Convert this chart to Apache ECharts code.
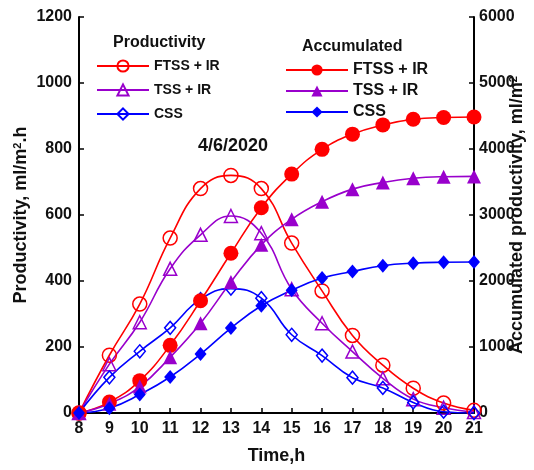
<!DOCTYPE html>
<html>
<head>
<meta charset="utf-8">
<script src="https://cdn.jsdelivr.net/npm/echarts@6/dist/echarts.min.js"></script>
<style>
  html, body { margin: 0; padding: 0; background: #fff; }
  #chart { width: 534px; height: 470px; }
</style>
</head>
<body>
<div id="chart"></div>
<script>
// time of day, h
const hours = ['8', '9', '10', '11', '12', '13', '14', '15', '16', '17', '18', '19', '20', '21'];

// productivity, ml/m2.h (left axis)
const prodFtss = [0, 175, 330, 530, 680, 720, 680, 515, 370, 235, 145, 75, 30, 8];
const prodTss = [0, 148, 275, 437, 540, 597, 545, 375, 272, 186, 105, 42, 16, 3];
const prodCss = [0, 108, 187, 258, 345, 377, 348, 237, 174, 107, 76, 32, 4, 0];

// accumulated productivity, ml/m2 (right axis)
const accFtss = [0, 165, 490, 1025, 1700, 2420, 3110, 3620, 3995, 4225, 4365, 4450, 4478, 4485];
const accTss = [0, 140, 400, 845, 1360, 1985, 2548, 2935, 3202, 3392, 3492, 3556, 3580, 3585];
const accCss = [0, 72, 280, 545, 893, 1287, 1625, 1860, 2045, 2145, 2232, 2270, 2284, 2288];

const RED = '#ff0000';
const PURPLE = '#9900cc';
const BLUE = '#0000ff';
const FONT = 'Liberation Sans, Arial, sans-serif';

// 数据系列的公共设置
function line(name, data, color, symbol, size, filled, yIdx) {
  return {
    name: name,
    type: 'line',
    yAxisIndex: yIdx,
    data: data,
    smooth: 0.45,
    symbol: symbol,
    symbolSize: size,
    lineStyle: { color: color, width: 1.6 },
    itemStyle: filled
      ? { color: color, borderColor: color, borderWidth: 0 }
      : { color: 'rgba(255,255,255,0)', borderColor: color, borderWidth: 1.5 },
    emphasis: { disabled: true }
  };
}

const chart = echarts.init(document.getElementById('chart'));
const option = {
  animation: false,
  backgroundColor: '#fff',
  textStyle: { fontFamily: FONT },
  grid: { left: 79, right: 60, top: 17, bottom: 57, outerBoundsMode: 'none', containLabel: false },
  legend: [
    {
      orient: 'vertical',
      left: 91,
      top: 54,
      itemWidth: 52,
      itemHeight: 14,
      itemGap: 10,
      data: ['P|FTSS + IR', 'P|TSS + IR', 'P|CSS'],
      formatter: n => n.split('|')[1],
      textStyle: { fontFamily: FONT, fontWeight: 'bold', fontSize: 14, color: '#111' }
    },
    {
      orient: 'vertical',
      left: 280,
      top: 57,
      itemWidth: 62,
      itemHeight: 14,
      itemGap: 5,
      data: ['A|FTSS + IR', 'A|TSS + IR', 'A|CSS'],
      formatter: n => n.split('|')[1],
      textStyle: { fontFamily: FONT, fontWeight: 'bold', fontSize: 16, color: '#111' }
    }
  ],
  graphic: [
    {
      type: 'text', left: 113, top: 35,
      style: { text: 'Productivity', fontFamily: 'Liberation Sans Narrow, Arial Narrow, sans-serif', fontWeight: 'bold', fontSize: 16, fill: '#111' }
    },
    {
      type: 'text', left: 302, top: 39,
      style: { text: 'Accumulated', fontFamily: FONT, fontWeight: 'bold', fontSize: 16, fill: '#111' }
    },
    {
      type: 'text', left: 198, top: 137,
      style: { text: '4/6/2020', fontFamily: FONT, fontWeight: 'bold', fontSize: 18, fill: '#111' }
    }
  ],
  xAxis: {
    type: 'category',
    data: hours,
    boundaryGap: false,
    name: 'Time,h',
    nameLocation: 'middle',
    nameGap: 34,
    nameMoveOverlap: false,
    nameTextStyle: { fontFamily: FONT, fontWeight: 'bold', fontSize: 18, color: '#111' },
    axisLine: { lineStyle: { color: '#000', width: 2 } },
    axisTick: { inside: true, length: 5, lineStyle: { color: '#000', width: 1.5 } },
    axisLabel: { fontFamily: FONT, fontWeight: 'bold', fontSize: 16, color: '#111', margin: 8 },
    splitLine: { show: false }
  },
  yAxis: [
    {
      type: 'value',
      min: 0, max: 1200, interval: 200,
      position: 'left',
      name: 'Productivity, ml/m{sup|2}.h',
      nameLocation: 'middle',
      nameGap: 48,
      nameMoveOverlap: false,
      nameTextStyle: {
        fontFamily: FONT, fontWeight: 'bold', fontSize: 18, color: '#111',
        rich: { sup: { fontFamily: FONT, fontWeight: 'bold', fontSize: 11, color: '#111', padding: [0, 0, 8, 0] } }
      },
      axisLine: { show: true, lineStyle: { color: '#000', width: 2 } },
      axisTick: { show: true, inside: true, length: 5, lineStyle: { color: '#000', width: 1.5 } },
      axisLabel: { fontFamily: FONT, fontWeight: 'bold', fontSize: 16, color: '#111', margin: 7, formatter: v => String(v) },
      splitLine: { show: false }
    },
    {
      type: 'value',
      min: 0, max: 6000, interval: 1000,
      position: 'right',
      name: 'Accumulated productivity, ml/m{sup|2}',
      nameLocation: 'middle',
      nameGap: 34,
      nameRotate: 90,
      nameMoveOverlap: false,
      nameTextStyle: {
        fontFamily: FONT, fontWeight: 'bold', fontSize: 18, color: '#111',
        rich: { sup: { fontFamily: FONT, fontWeight: 'bold', fontSize: 11, color: '#111', padding: [0, 0, 8, 0] } }
      },
      axisLine: { show: true, lineStyle: { color: '#000', width: 2 } },
      axisTick: { show: true, inside: true, length: 5, lineStyle: { color: '#000', width: 1.5 } },
      axisLabel: { fontFamily: FONT, fontWeight: 'bold', fontSize: 16, color: '#111', margin: 5, formatter: v => String(v) },
      splitLine: { show: false }
    }
  ],
  series: [
    line('P|FTSS + IR', prodFtss, RED, 'circle', 14, false, 0),
    line('P|TSS + IR', prodTss, PURPLE, 'triangle', 13, false, 0),
    line('P|CSS', prodCss, BLUE, 'diamond', [11, 13], false, 0),
    line('A|FTSS + IR', accFtss, RED, 'circle', 15, true, 1),
    line('A|TSS + IR', accTss, PURPLE, 'triangle', 14, true, 1),
    line('A|CSS', accCss, BLUE, 'diamond', [12, 14], true, 1)
  ]
};
chart.setOption(option);
</script>
</body>
</html>
